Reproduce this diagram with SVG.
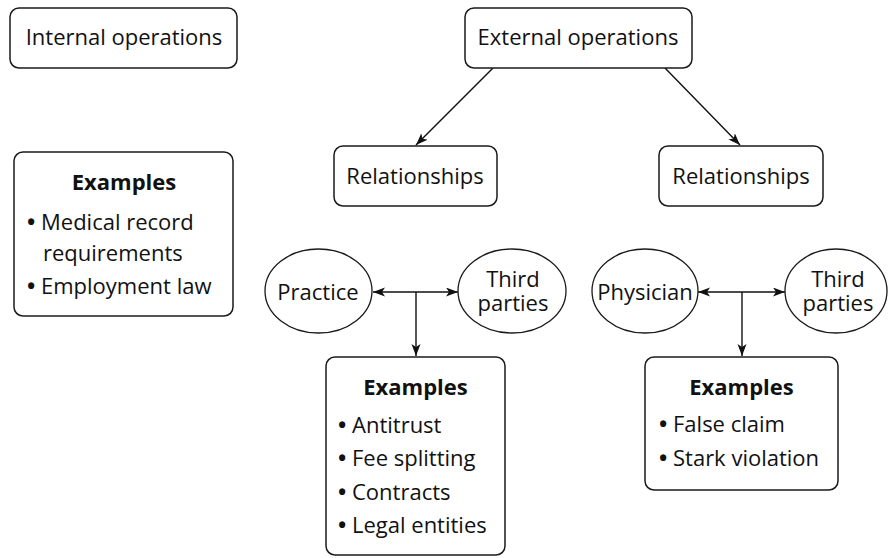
<svg xmlns="http://www.w3.org/2000/svg" width="888" height="558" viewBox="0 0 888 558">
  <style>
    .box { fill: #fff; stroke: #1a1a1a; stroke-width: 1.5; }
    .oval { fill: #fff; stroke: #1a1a1a; stroke-width: 1.3; }
    .wire { fill: none; stroke: #111; stroke-width: 1.4; }
    text { font-family: "Open Sans", "Noto Sans", "Liberation Sans", sans-serif; font-size: 22px; fill: #111; }
    .c { text-anchor: middle; }
    .b { font-weight: bold; }
    .dot { font-weight: bold; }
  </style>
  <defs>
    <marker id="head" markerUnits="userSpaceOnUse" markerWidth="14" markerHeight="10" refX="12" refY="4.5" orient="auto-start-reverse">
      <path d="M0,0 L12,4.5 L0,9 L3,4.5 z" fill="#111"/>
    </marker>
  </defs>

  <rect width="888" height="558" fill="#fff"/>

  <!-- connectors -->
  <g id="connectors">
    <line class="wire" x1="493" y1="68" x2="416" y2="145" marker-end="url(#head)"/>
    <line class="wire" x1="665" y1="68" x2="740" y2="145" marker-end="url(#head)"/>
    <line class="wire" x1="373" y1="292" x2="458" y2="292" marker-start="url(#head)" marker-end="url(#head)"/>
    <line class="wire" x1="416" y1="292" x2="416" y2="356" marker-end="url(#head)"/>
    <line class="wire" x1="698" y1="292" x2="785" y2="292" marker-start="url(#head)" marker-end="url(#head)"/>
    <line class="wire" x1="742" y1="292" x2="742" y2="356" marker-end="url(#head)"/>
  </g>

  <g id="internal">
    <rect class="box" x="10" y="8" width="227" height="60" rx="9"/>
    <text class="c" x="124" y="45">Internal operations</text>
  </g>

  <g id="external">
    <rect class="box" x="465" y="8" width="227" height="60" rx="9"/>
    <text class="c" x="578" y="45">External operations</text>
  </g>

  <g id="rel-left">
    <rect class="box" x="334" y="146" width="163" height="60" rx="9"/>
    <text class="c" x="415" y="184">Relationships</text>
  </g>

  <g id="rel-right">
    <rect class="box" x="659" y="146" width="164" height="60" rx="9"/>
    <text class="c" x="741" y="184">Relationships</text>
  </g>

  <g id="internal-examples">
    <rect class="box" x="14" y="152" width="219" height="164" rx="9"/>
    <text class="c b" x="124" y="190">Examples</text>
    <text x="27" y="230"><tspan class="dot">•</tspan> Medical record</text>
    <text x="43" y="261">requirements</text>
    <text x="27" y="294"><tspan class="dot">•</tspan> Employment law</text>
  </g>

  <g id="practice">
    <ellipse class="oval" cx="318.5" cy="291" rx="53.5" ry="42"/>
    <text class="c" x="318" y="300">Practice</text>
  </g>

  <g id="third-left">
    <ellipse class="oval" cx="512" cy="291" rx="54" ry="42"/>
    <text class="c" x="513" y="287">Third</text>
    <text class="c" x="513" y="311">parties</text>
  </g>

  <g id="physician">
    <ellipse class="oval" cx="645" cy="291" rx="53" ry="42"/>
    <text class="c" x="645" y="300">Physician</text>
  </g>

  <g id="third-right">
    <ellipse class="oval" cx="836" cy="291" rx="51" ry="42"/>
    <text class="c" x="838" y="287">Third</text>
    <text class="c" x="838" y="311">parties</text>
  </g>

  <g id="practice-examples">
    <rect class="box" x="326" y="357" width="179" height="198" rx="9"/>
    <text class="c b" x="415.5" y="395">Examples</text>
    <text x="338" y="433"><tspan class="dot">•</tspan> Antitrust</text>
    <text x="338" y="466"><tspan class="dot">•</tspan> Fee splitting</text>
    <text x="338" y="500"><tspan class="dot">•</tspan> Contracts</text>
    <text x="338" y="533"><tspan class="dot">•</tspan> Legal entities</text>
  </g>

  <g id="physician-examples">
    <rect class="box" x="645" y="357" width="193" height="133" rx="9"/>
    <text class="c b" x="741.5" y="395">Examples</text>
    <text x="659" y="432"><tspan class="dot">•</tspan> False claim</text>
    <text x="659" y="466"><tspan class="dot">•</tspan> Stark violation</text>
  </g>
</svg>
